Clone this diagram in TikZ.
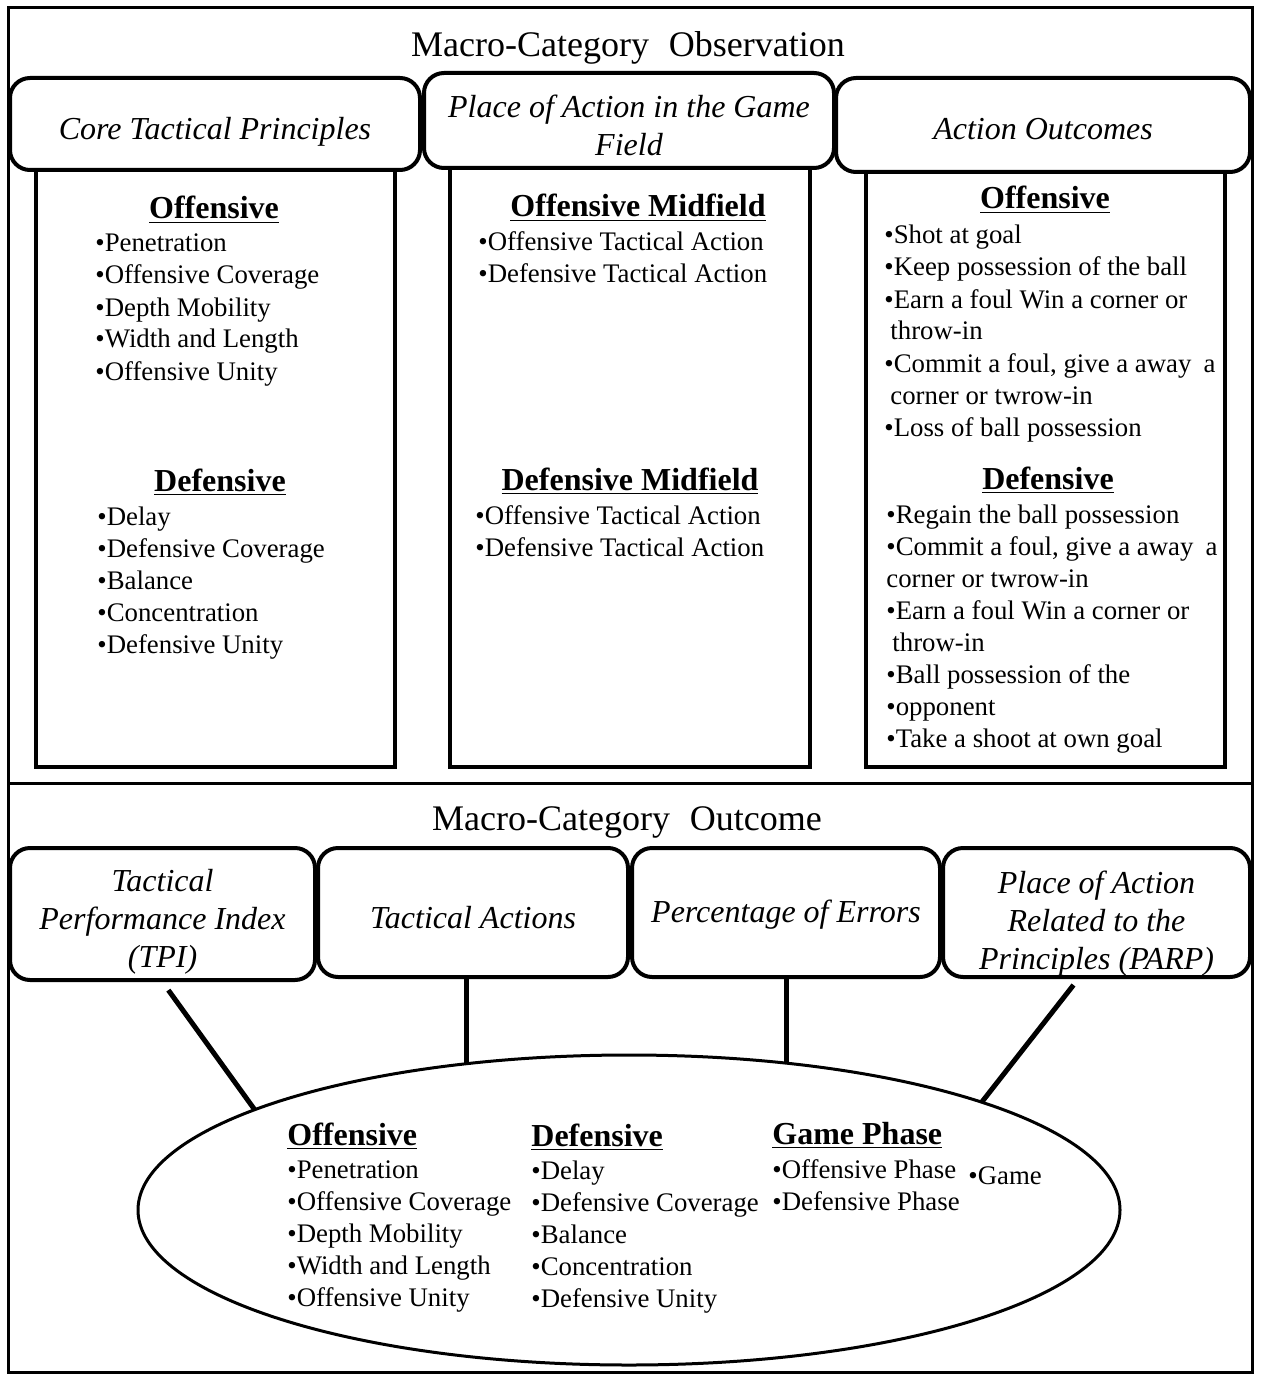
\documentclass[tikz,border=0pt]{standalone}
\usepackage{fontspec}
\setmainfont{Liberation Serif}
\usetikzlibrary{shapes.geometric,calc}

\begin{document}
\begin{tikzpicture}[
    x=0.5pt, y=-0.5pt,
    frame/.style={line width=1.5pt},
    title/.style={anchor=base, inner sep=0pt, font=\fontsize{18}{22}\selectfont},
    catbox/.style={draw, line width=2pt, rounded corners=10pt, fill=white, inner sep=0pt},
    cattext/.style={align=center, inner sep=0pt, font=\fontsize{16}{19}\selectfont\itshape},
    colbox/.style={draw, line width=1.6pt, inner sep=0pt},
    heading/.style={anchor=base, inner sep=0pt, font=\fontsize{16}{19}\selectfont\bfseries},
    entry/.style={anchor=base west, inner sep=0pt, font=\fontsize{13.4}{16}\selectfont},
    link/.style={line width=2.5pt}
]
    \useasboundingbox (0,0) rectangle (1260,1374);
    \draw[frame] (8,8) rectangle (1252,1372);
    \draw[frame] (8,783) -- (1252,783);

    % observation
    \node[title] (obs) at (628,57) {Macro-Category\hspace{0.55em}Observation};

    \node[colbox, minimum width=179.5pt, minimum height=298.5pt] (colA) at (215.5,468.5) {};
    \node[colbox, minimum width=180pt, minimum height=299.5pt] (colB) at (630,467.5) {};
    \node[colbox, minimum width=179.5pt, minimum height=298.5pt] (colC) at (1045.5,468.5) {};

    \node[catbox, minimum width=205pt, minimum height=46pt] (core) at (215,124) {};
    \node[catbox, minimum width=205pt, minimum height=47.5pt] (place) at (629,120.5) {};
    \node[catbox, minimum width=207pt, minimum height=47pt] (outc) at (1043,125) {};
    \node[cattext] (coret) at ($(core)+(0,8)$) {Core Tactical Principles};
    \node[cattext] (placet) at ($(place)+(0,5)$) {Place of Action in the Game\\Field};
    \node[cattext] (outct) at ($(outc)+(0,4)$) {Action Outcomes};

    % core tactical principles
    \node[heading] (aoff) at (214,219) {\underline{Offensive}};
    \foreach \txt [count=\k from 0] in {Penetration, Offensive Coverage, Depth Mobility, Width and Length, Offensive Unity}
        \node[entry] (ao\k) at (95,252+32*\k) {\textbullet\txt};
    \node[heading] (adef) at (220,491) {\underline{Defensive}};
    \foreach \txt [count=\k from 0] in {Delay, Defensive Coverage, Balance, Concentration, Defensive Unity}
        \node[entry] (ad\k) at (97,525+32*\k) {\textbullet\txt};

    % place of action
    \node[heading] (boff) at (638,217) {\underline{Offensive Midfield}};
    \foreach \txt [count=\k from 0] in {Offensive Tactical Action, Defensive Tactical Action}
        \node[entry] (bo\k) at (478,251+32*\k) {\textbullet\txt};
    \node[heading] (bdef) at (630,490) {\underline{Defensive Midfield}};
    \foreach \txt [count=\k from 0] in {Offensive Tactical Action, Defensive Tactical Action}
        \node[entry] (bd\k) at (475,524+32*\k) {\textbullet\txt};

    % action outcomes
    \node[heading] (coff) at (1045,209) {\underline{Offensive}};
    \foreach \txt [count=\k from 0] in {\textbullet Shot at goal, \textbullet Keep possession of the ball,
        \textbullet Earn a foul Win a corner or, \hspace*{3pt}throw-in,
        {\textbullet Commit a foul, give a away\hspace{0.2em} a}, \hspace*{3pt}corner or twrow-in,
        \textbullet Loss of ball possession}
        \node[entry] (co\k) at (884,244+32*\k) {\txt};
    \node[heading] (cdef) at (1048,489) {\underline{Defensive}};
    \foreach \txt [count=\k from 0] in {\textbullet Regain the ball possession,
        {\textbullet Commit a foul, give a away\hspace{0.2em} a}, corner or twrow-in,
        \textbullet Earn a foul Win a corner or, \hspace*{3pt}throw-in,
        \textbullet Ball possession of the, \textbullet opponent, \textbullet Take a shoot at own goal}
        \node[entry] (cd\k) at (886,523+32*\k) {\txt};

    % outcome
    \node[title] (outcome) at (627,830) {Macro-Category\hspace{0.55em}Outcome};

    \node[catbox, minimum width=152.5pt, minimum height=66pt] (tpi) at (162.5,914) {};
    \node[catbox, minimum width=155pt, minimum height=64.5pt] (tact) at (473,912.5) {};
    \node[catbox, minimum width=154pt, minimum height=64.5pt] (perc) at (786,912.5) {};
    \node[catbox, minimum width=153.5pt, minimum height=64.5pt] (parp) at (1096.5,912.5) {};
    \node[cattext] (tpit) at ($(tpi)+(0,8)$) {Tactical\\Performance Index\\(TPI)};
    \node[cattext] (tactt) at ($(tact)+(0,5)$) {Tactical Actions};
    \node[cattext] (perct) at ($(perc)+(0,2)$) {Percentage of Errors};
    \node[cattext] (parpt) at ($(parp)+(0,11)$) {Place of Action\\Related to the\\Principles (PARP)};

    \node[draw, ellipse, line width=1.5pt, inner sep=0pt, outer sep=0pt, minimum width=491pt, minimum height=155pt] (ell) at (629,1210) {};

    \draw[link, shorten <=5pt] (tpi.south) -- (ell.165);
    \draw[link] (tact.south -| ell.138) -- (ell.138);
    \draw[link] (perc.south -| ell.43) -- (ell.43);
    \draw[link] ($(parp.south)+(-23,6)$) -- (ell.17);

    \node[heading, anchor=base west] (eoff) at (287,1145) {\underline{Offensive}};
    \foreach \txt [count=\k from 0] in {Penetration, Offensive Coverage, Depth Mobility, Width and Length, Offensive Unity}
        \node[entry] (eo\k) at (287,1178+32*\k) {\textbullet\txt};
    \node[heading, anchor=base west] (edef) at (531,1146) {\underline{Defensive}};
    \foreach \txt [count=\k from 0] in {Delay, Defensive Coverage, Balance, Concentration, Defensive Unity}
        \node[entry] (ed\k) at (531,1179+32*\k) {\textbullet\txt};
    \node[heading, anchor=base west] (egame) at (772,1144) {\underline{Game Phase}};
    \foreach \txt [count=\k from 0] in {Offensive Phase, Defensive Phase}
        \node[entry] (eg\k) at (772,1178+32*\k) {\textbullet\txt};
    \node[entry] (gm) at (968,1184) {\textbullet Game};
\end{tikzpicture}
\end{document}
